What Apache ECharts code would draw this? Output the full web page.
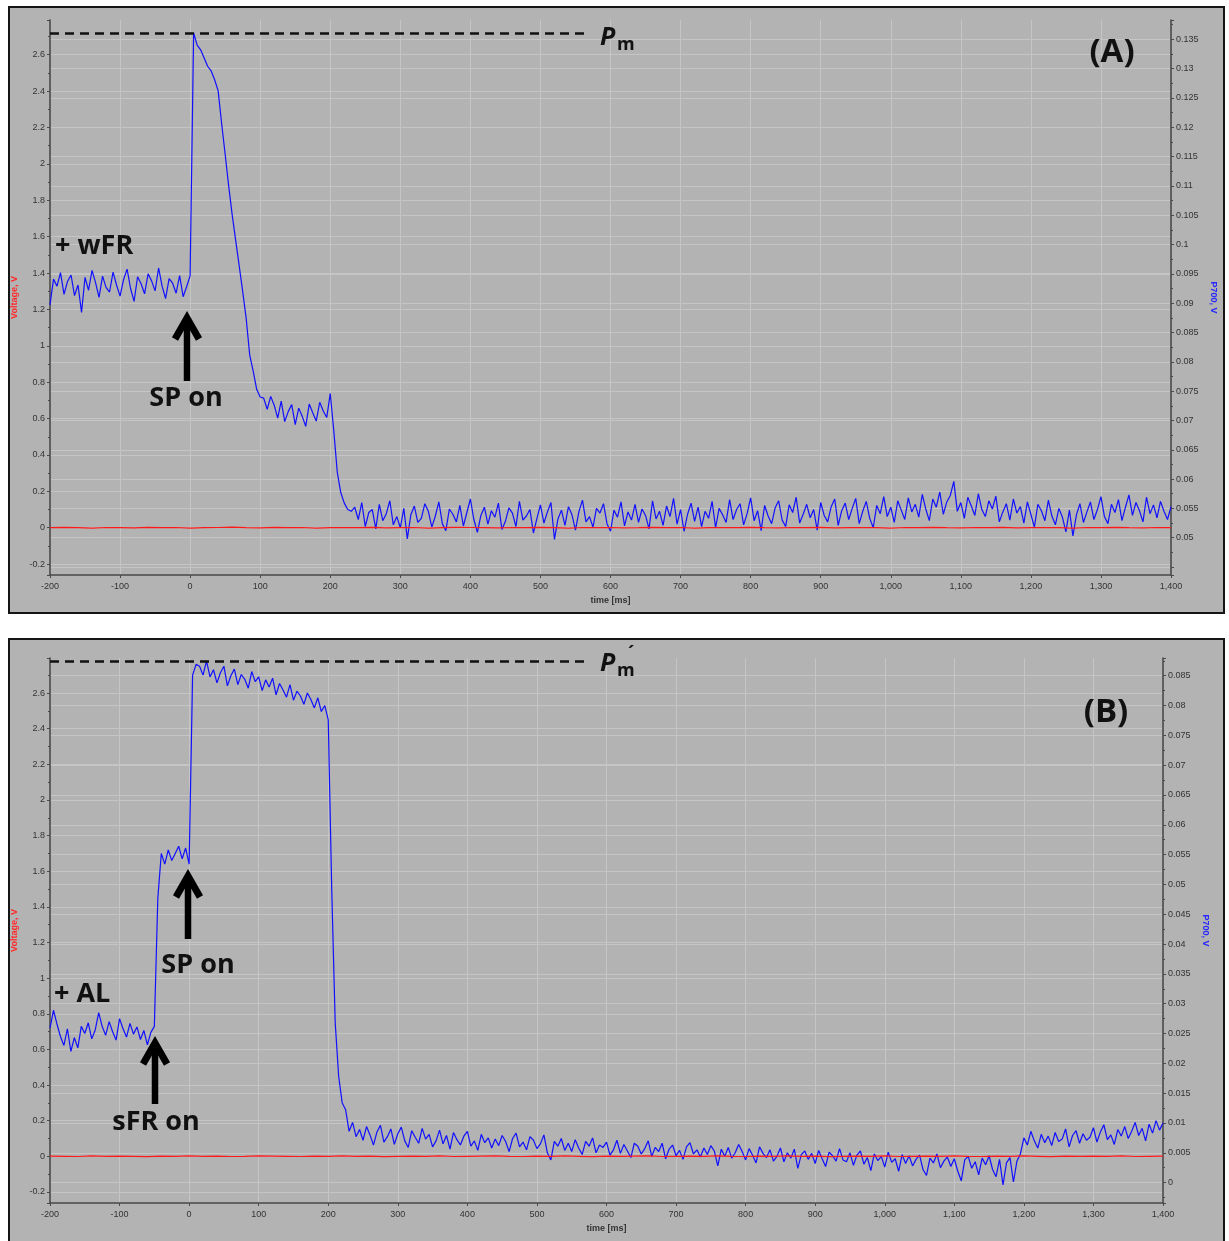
<!DOCTYPE html>
<html><head><meta charset="utf-8">
<script src="https://cdn.jsdelivr.net/npm/echarts@6/dist/echarts.min.js"></script>
<style>
html,body{margin:0;padding:0;background:#fff;overflow:hidden;width:1229px;height:1241px}
.frame{position:absolute;box-sizing:border-box;border:2.5px solid #151515;background:#b3b3b3}
#frameA{left:8px;top:6px;width:1217px;height:608px}
#frameB{left:8px;top:638px;width:1217px;height:612px}
#chart{position:absolute;left:0;top:0;width:1229px;height:1241px}
</style></head><body>
<div id="frameA" class="frame"></div><div id="frameB" class="frame"></div>
<div id="chart"></div>
<script>
// ---------- sampling ----------
const SAMPLE_START_MS = -200;
const BLUE_STEP_MS = 5;
const RED_STEP_MS = 20;
const PM_LINE_END_MS = 570;

// ---------- Panel A: P700 signal (V), right axis ----------
const p700A = [
  0.0897,0.0941,0.0929,0.0952,0.0915,0.0937,0.0948,0.0913,0.0931,0.0884,
  0.0944,0.0922,0.0956,0.0935,0.0910,0.0946,0.0927,0.0919,0.0953,0.0931,
  0.0912,0.0940,0.0958,0.0925,0.0903,0.0945,0.0933,0.0916,0.0950,0.0938,
  0.0921,0.0960,0.0929,0.0908,0.0942,0.0934,0.0917,0.0947,0.0911,0.0928,
  0.0947,
  0.1361,0.1340,0.1332,0.1318,0.1304,0.1296,0.1281,0.1262,0.1206,0.1154,
  0.1100,0.1051,0.1007,0.0964,0.0920,0.0874,0.0812,0.0784,0.0753,0.0740,
  0.0738,0.0719,0.0741,0.0726,0.0704,0.0733,0.0698,0.0715,0.0727,0.0693,
  0.0721,0.0707,0.0690,0.0728,0.0713,0.0699,0.0731,0.0716,0.0705,0.0746,
  0.0683,0.0612,0.0577,0.0559,0.0548,0.0545,
  0.0552,0.0531,0.0560,0.0519,0.0543,0.0548,0.0515,0.0557,0.0529,0.0541,
  0.0563,0.0522,0.0536,0.0517,0.0550,0.0498,0.0539,0.0554,0.0526,0.0533,
  0.0558,0.0545,0.0518,0.0537,0.0561,0.0524,0.0512,0.0549,0.0540,0.0527,
  0.0555,0.0520,0.0543,0.0566,0.0531,0.0509,0.0538,0.0552,0.0523,0.0546,
  0.0535,0.0559,0.0514,0.0528,0.0551,0.0542,0.0519,0.0562,0.0530,0.0537,
  0.0548,0.0508,0.0533,0.0556,0.0525,0.0544,0.0560,0.0497,0.0532,0.0547,
  0.0521,0.0553,0.0539,0.0513,0.0545,0.0564,0.0527,0.0536,0.0518,0.0550,
  0.0542,0.0558,0.0524,0.0511,0.0547,0.0535,0.0561,0.0520,0.0544,0.0530,
  0.0557,0.0526,0.0549,0.0538,0.0515,0.0563,0.0532,0.0545,0.0521,0.0554,
  0.0536,0.0567,0.0523,0.0548,0.0511,0.0540,0.0559,0.0528,0.0552,0.0519,
  0.0545,0.0533,0.0562,0.0517,0.0550,0.0539,0.0526,0.0565,0.0531,0.0548,
  0.0558,0.0522,0.0541,0.0568,0.0529,0.0546,0.0512,0.0555,0.0537,0.0524,
  0.0551,0.0563,0.0530,0.0519,0.0556,0.0543,0.0569,0.0525,0.0540,0.0557,
  0.0534,0.0548,0.0513,0.0560,0.0538,0.0527,0.0553,0.0566,0.0521,0.0546,
  0.0559,0.0531,0.0550,0.0567,0.0524,0.0545,0.0562,0.0533,0.0517,0.0555,
  0.0541,0.0570,0.0536,0.0552,0.0526,0.0563,0.0547,0.0531,0.0568,0.0544,
  0.0557,0.0535,0.0574,0.0549,0.0529,0.0566,0.0552,0.0578,0.0540,0.0561,
  0.0572,0.0596,0.0545,0.0560,0.0533,0.0569,0.0554,0.0538,0.0575,0.0548,
  0.0536,0.0563,0.0549,0.0571,0.0527,0.0544,0.0558,0.0530,0.0566,0.0542,
  0.0553,0.0525,0.0561,0.0540,0.0518,0.0557,0.0546,0.0529,0.0564,0.0537,
  0.0522,0.0550,0.0535,0.0510,0.0547,0.0503,0.0539,0.0558,0.0526,0.0544,
  0.0561,0.0531,0.0548,0.0570,0.0536,0.0524,0.0557,0.0543,0.0565,0.0529,
  0.0552,0.0573,0.0538,0.0560,0.0546,0.0527,0.0569,0.0541,0.0556,0.0534,
  0.0562,0.0545,0.0531,0.0553
];
// Panel A: Voltage (V), left axis
const voltageA = [
  0.000,0.002,0.000,-0.002,0.001,0.000,-0.001,0.002,0.000,0.001,
  -0.002,0.000,0.001,0.003,0.000,-0.001,0.002,0.000,0.001,-0.002,
  0.000,0.001,0.000,0.002,-0.001,0.000,0.001,-0.002,0.000,0.002,
  0.001,0.000,-0.001,0.001,0.000,0.002,0.000,-0.002,0.001,0.000,
  0.001,-0.001,0.000,0.002,0.000,0.001,-0.002,0.000,0.001,0.000,
  0.002,0.000,-0.001,0.001,0.000,0.002,-0.001,0.000,0.001,0.000,
  -0.002,0.001,0.000,0.002,0.000,-0.001,0.001,0.000,0.002,-0.001,
  0.000,0.001,0.000,-0.002,0.001,0.000,0.002,0.000,-0.001,0.001,
  0.000
];

// ---------- Panel B ----------
const p700B = [
  0.0259,0.0289,0.0266,0.0245,0.0230,0.0258,0.0220,0.0243,0.0226,0.0262,
  0.0250,0.0268,0.0241,0.0256,0.0285,0.0262,0.0247,0.0270,0.0253,0.0239,
  0.0275,0.0258,0.0244,0.0267,0.0249,0.0261,0.0240,0.0255,0.0231,0.0252,
  0.0262,0.0477,0.0552,0.0534,0.0558,0.0540,0.0552,0.0564,0.0543,0.0561,0.0534,
  0.0851,0.0869,
  0.0866,0.0851,0.0875,0.0848,0.0860,0.0838,0.0855,0.0866,0.0833,0.0850,
  0.0861,0.0835,0.0852,0.0844,0.0829,0.0857,0.0840,0.0848,0.0825,0.0843,
  0.0831,0.0846,0.0818,0.0837,0.0826,0.0814,0.0835,0.0809,0.0824,0.0816,
  0.0802,0.0821,0.0810,0.0796,0.0813,0.0790,0.0800,
  0.0776,0.0492,0.0268,0.0178,0.0134,0.0122,0.0086,0.0101,0.0077,
  0.0089,0.0071,0.0094,0.0080,0.0063,0.0085,0.0096,0.0068,0.0077,0.0090,
  0.0064,0.0082,0.0093,0.0070,0.0059,0.0087,0.0076,0.0066,0.0091,0.0073,
  0.0081,0.0060,0.0070,0.0088,0.0065,0.0079,0.0056,0.0084,0.0072,0.0063,
  0.0078,0.0086,0.0061,0.0070,0.0054,0.0081,0.0067,0.0075,0.0058,0.0073,
  0.0062,0.0079,0.0069,0.0052,0.0074,0.0083,0.0060,0.0068,0.0055,0.0077,
  0.0071,0.0057,0.0065,0.0080,0.0050,0.0038,0.0069,0.0061,0.0074,0.0054,
  0.0066,0.0052,0.0072,0.0058,0.0047,0.0069,0.0061,0.0075,0.0050,0.0063,
  0.0059,0.0068,0.0046,0.0055,0.0071,0.0049,0.0064,0.0053,0.0042,0.0066,
  0.0061,0.0048,0.0057,0.0070,0.0044,0.0059,0.0052,0.0066,0.0040,0.0056,
  0.0063,0.0045,0.0054,0.0039,0.0060,0.0067,0.0048,0.0055,0.0043,0.0058,
  0.0047,0.0062,0.0053,0.0028,0.0056,0.0044,0.0059,0.0041,0.0050,0.0064,
  0.0052,0.0038,0.0057,0.0046,0.0033,0.0060,0.0049,0.0042,0.0055,0.0036,
  0.0044,0.0058,0.0035,0.0050,0.0041,0.0056,0.0024,0.0047,0.0053,0.0039,
  0.0049,0.0032,0.0054,0.0040,0.0027,0.0051,0.0045,0.0036,0.0057,0.0038,
  0.0035,0.0050,0.0029,0.0046,0.0053,0.0031,0.0042,0.0020,0.0048,0.0037,
  0.0044,0.0026,0.0051,0.0034,0.0040,0.0019,0.0047,0.0032,0.0045,0.0028,
  0.0039,0.0046,0.0022,0.0012,0.0041,0.0033,0.0048,0.0025,0.0036,0.0043,
  0.0027,0.0040,0.0019,0.0003,0.0038,0.0044,0.0024,0.0035,0.0013,0.0041,
  0.0030,0.0045,0.0022,0.0010,0.0039,-0.0004,0.0033,0.0042,0.0001,0.0036,
  0.0048,0.0075,0.0063,0.0086,0.0070,0.0058,0.0081,0.0067,0.0078,0.0062,
  0.0084,0.0069,0.0073,0.0090,0.0060,0.0079,0.0087,0.0066,0.0082,0.0071,
  0.0076,0.0092,0.0068,0.0085,0.0097,0.0072,0.0080,0.0064,0.0089,0.0078,
  0.0094,0.0074,0.0086,0.0101,0.0079,0.0091,0.0070,0.0098,0.0083,0.0104,
  0.0088,0.0100
];
const voltageB = [
  0.001,0.000,-0.001,0.002,0.000,0.001,0.000,-0.002,0.001,0.000,
  0.002,0.000,0.001,-0.001,0.000,0.002,0.001,0.000,-0.001,0.001,
  0.000,0.002,0.000,0.001,-0.002,0.000,0.001,0.000,0.002,-0.001,
  0.000,0.001,0.002,0.000,-0.001,0.001,0.000,0.002,0.000,-0.002,
  0.001,0.000,0.001,0.002,-0.001,0.000,0.001,0.000,0.002,0.000,
  -0.001,0.001,0.000,0.002,0.000,0.001,-0.002,0.000,0.001,0.000,
  0.002,-0.001,0.000,0.001,0.000,0.002,0.000,-0.001,0.001,0.000,
  0.002,0.000,-0.002,0.001,0.000,0.001,0.000,0.002,-0.001,0.000,
  0.001
];

// ---------- axis ranges ----------
const rangeA = { voltMin: -0.260, voltMax: 2.791, p700Min: 0.04364, p700Max: 0.13829 };
const rangeB = { voltMin: -0.262, voltMax: 2.797, p700Min: -0.00342, p700Max: 0.08797 };
const X_MIN = -200, X_MAX = 1400, X_INTERVAL = 100;

// ---------- text ----------
const TXT = {
  xName: 'time [ms]', voltName: 'Voltage, V', p700Name: 'P700, V',
  wfr: '+ wFR', spOn: 'SP on', al: '+ AL', sfrOn: 'sFR on', panelA: '(A)', panelB: '(B)',
  pm: 'P', sub: 'm', prime: '\u00B4'
};

const toPairs = (vals, step) => vals.map((v, i) => [SAMPLE_START_MS + i * step, v]);
const peakA = Math.max(...p700A);
const peakB = Math.max(...p700B);

const LABEL_FONT = 'Liberation Sans, Arial, sans-serif';
const axisLineStyle = { color: '#4a4a4a', width: 1.6 };
const gridLine = { show: true, lineStyle: { color: '#c5c5c5', width: 1 }, showMinLine: false, showMaxLine: false };

function xAxisFor(gi) {
  return {
    gridIndex: gi, type: 'value', min: X_MIN, max: X_MAX, interval: X_INTERVAL,
    axisLine: { show: true, onZero: false, lineStyle: axisLineStyle },
    axisTick: { show: true, length: 3, lineStyle: { color: '#4a4a4a' } },
    axisLabel: { fontSize: 9, color: '#333', fontFamily: LABEL_FONT, margin: 7,
      formatter: v => v.toLocaleString('en-US') },
    splitLine: gridLine,
    name: TXT.xName, nameLocation: 'middle', nameGap: 21,
    nameTextStyle: { fontSize: 9, fontWeight: 'bold', color: '#333', fontFamily: LABEL_FONT }
  };
}
function voltAxisFor(gi, r) {
  return {
    gridIndex: gi, type: 'value', position: 'left', min: r.voltMin, max: r.voltMax, splitNumber: 15,
    axisLine: { show: true, onZero: false, lineStyle: axisLineStyle },
    axisTick: { show: true, length: 3, lineStyle: { color: '#4a4a4a' } },
    minorTick: { show: true, splitNumber: 2, length: 2, lineStyle: { color: '#4a4a4a' } },
    axisLabel: { fontSize: 9, color: '#333', fontFamily: LABEL_FONT, margin: 5, showMinLabel: false, showMaxLabel: false },
    splitLine: gridLine,
    name: TXT.voltName, nameLocation: 'middle', nameRotate: 90, nameGap: 25,
    nameTextStyle: { fontSize: 9, fontWeight: 'bold', color: '#ff2a2a', fontFamily: LABEL_FONT }
  };
}
function p700AxisFor(gi, r, hideBelow) {
  return {
    gridIndex: gi, type: 'value', position: 'right', min: r.p700Min, max: r.p700Max, splitNumber: 19,
    axisLine: { show: true, onZero: false, lineStyle: axisLineStyle },
    axisTick: { show: true, length: 3, lineStyle: { color: '#4a4a4a' } },
    minorTick: { show: true, splitNumber: 2, length: 2, lineStyle: { color: '#4a4a4a' } },
    axisLabel: { fontSize: 9, color: '#333', fontFamily: LABEL_FONT, margin: 5, showMinLabel: false, showMaxLabel: false,
      formatter: v => (v < hideBelow ? '' : String(v)) },
    splitLine: gridLine,
    name: TXT.p700Name, nameLocation: 'middle', nameRotate: -90, nameGap: 29,
    nameTextStyle: { fontSize: 9, fontWeight: 'bold', color: '#2a2aff', fontFamily: LABEL_FONT }
  };
}
function pmLine(peak) {
  return {
    silent: true, symbol: 'none', animation: false,
    label: { show: false },
    lineStyle: { type: [9, 6], width: 2.5, color: '#111' },
    data: [[{ coord: [X_MIN, peak] }, { coord: [PM_LINE_END_MS, peak] }]]
  };
}

const BOLD = '"Open Sans", "DejaVu Sans", sans-serif';
function label(text, x, y, align, size) {
  return { type: 'text', x, y, silent: true, z: 100,
    style: { text, fill: '#111', font: `bold ${size || 27}px ${BOLD}`, align: align || 'left', verticalAlign: 'middle' } };
}
function arrow(x, tipY, tailY) {
  return [
    { type: 'line', silent: true, z: 100, shape: { x1: x, y1: tipY + 6, x2: x, y2: tailY }, style: { stroke: '#000', lineWidth: 6.5 } },
    { type: 'polyline', silent: true, z: 100, shape: { points: [[x - 12, tipY + 27], [x, tipY + 6], [x + 12, tipY + 27]] },
      style: { stroke: '#000', lineWidth: 7, lineJoin: 'miter', fill: null } }
  ];
}
function pmLabel(x, y, withPrime) {
  const els = [
    { type: 'text', x, y, silent: true, z: 100, style: { text: TXT.pm, fill: '#111', font: `italic bold 25px ${BOLD}`, align: 'left', verticalAlign: 'top' } },
    { type: 'text', x: x + 17, y: y + 11, silent: true, z: 100, style: { text: TXT.sub, fill: '#111', font: `bold 18px ${BOLD}`, align: 'left', verticalAlign: 'top' } }
  ];
  if (withPrime) els.push({ type: 'text', x: x + 28, y: y - 6, silent: true, z: 100, style: { text: TXT.prime, fill: '#111', font: `bold 18px ${BOLD}`, align: 'left', verticalAlign: 'top' } });
  return els;
}

const chart = echarts.init(document.getElementById('chart'), null, { renderer: 'canvas' });
chart.setOption({
  animation: false,
  backgroundColor: 'transparent',
  grid: [
    { left: 50, right: 58, top: 20, bottom: 666 },
    { left: 50, right: 66, top: 658, bottom: 38 }
  ],
  xAxis: [xAxisFor(0), xAxisFor(1)],
  yAxis: [
    voltAxisFor(0, rangeA), p700AxisFor(0, rangeA, 0.0474),
    voltAxisFor(1, rangeB), p700AxisFor(1, rangeB, -1)
  ],
  series: [
    { type: 'line', xAxisIndex: 0, yAxisIndex: 1, data: toPairs(p700A, BLUE_STEP_MS), showSymbol: false,
      lineStyle: { color: '#1010ff', width: 1.2 }, markLine: pmLine(peakA), z: 3 },
    { type: 'line', xAxisIndex: 0, yAxisIndex: 0, data: toPairs(voltageA, RED_STEP_MS), showSymbol: false,
      lineStyle: { color: '#ff1a1a', width: 1.2 }, z: 4 },
    { type: 'line', xAxisIndex: 1, yAxisIndex: 3, data: toPairs(p700B, BLUE_STEP_MS), showSymbol: false,
      lineStyle: { color: '#1010ff', width: 1.2 }, markLine: pmLine(peakB), z: 3 },
    { type: 'line', xAxisIndex: 1, yAxisIndex: 2, data: toPairs(voltageB, RED_STEP_MS), showSymbol: false,
      lineStyle: { color: '#ff1a1a', width: 1.2 }, z: 4 }
  ],
  graphic: [
    label(TXT.wfr, 55, 246),
    label(TXT.spOn, 186, 398, 'center'),
    ...arrow(187, 312, 381),
    label(TXT.panelA, 1112, 53, 'center', 33),
    ...pmLabel(600, 25, false),
    label(TXT.al, 54, 994),
    label(TXT.spOn, 198, 965, 'center'),
    ...arrow(188, 870, 939),
    label(TXT.sfrOn, 156, 1122, 'center'),
    ...arrow(155, 1037, 1104),
    label(TXT.panelB, 1106, 713, 'center', 33),
    ...pmLabel(600, 651, true)
  ]
});
</script>
</body></html>
